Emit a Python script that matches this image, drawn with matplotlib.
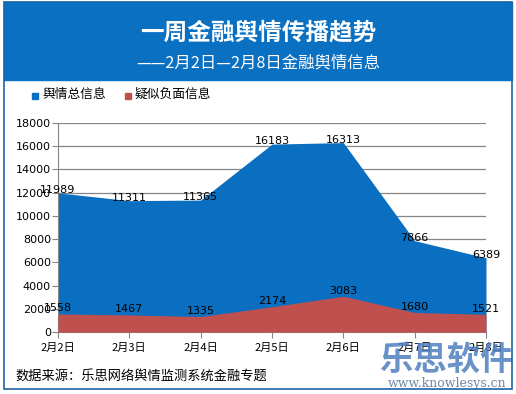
import matplotlib.pyplot as plt
from matplotlib.patches import Rectangle

plt.rcParams['font.family'] = ['Noto Sans CJK SC', 'DejaVu Sans']

# 数据
dates = ['2月2日', '2月3日', '2月4日', '2月5日', '2月6日', '2月7日', '2月8日']
total = [11989, 11311, 11365, 16183, 16313, 7866, 6389]
negative = [1558, 1467, 1335, 2174, 3083, 1680, 1521]
yticks = [0, 2000, 4000, 6000, 8000, 10000, 12000, 14000, 16000, 18000]

W, H = 516, 394
fig = plt.figure(figsize=(W / 100, H / 100), dpi=100)
fig.patch.set_facecolor('white')

blue = '#0a6fc0'
red = '#c0504d'

# 顶部标题栏和外框
fig.patches.append(Rectangle((4 / W, 1 - 80 / H), 508 / W, 78 / H,
                             transform=fig.transFigure, color='#0a70c2', zorder=0))
fig.patches.append(Rectangle((4 / W, 1 - 389 / H), 508 / W, 387 / H,
                             transform=fig.transFigure, fill=False,
                             edgecolor='#1f64a8', linewidth=1.2, zorder=5))

fig.text(258 / W, 1 - 32 / H, '一周金融舆情传播趋势', color='white',
         fontsize=17, fontweight='bold', ha='center', va='center')
fig.text(258 / W, 1 - 63 / H, '——2月2日—2月8日金融舆情信息', color='white',
         fontsize=11.8, ha='center', va='center')

# 图例
fig.patches.append(Rectangle((32 / W, 1 - 99 / H), 6 / W, 6 / H,
                             transform=fig.transFigure, color=blue))
fig.text(42 / W, 1 - 94 / H, '舆情总信息', fontsize=9.2, va='center')
fig.patches.append(Rectangle((125 / W, 1 - 99 / H), 6 / W, 6 / H,
                             transform=fig.transFigure, color=red))
fig.text(135 / W, 1 - 94 / H, '疑似负面信息', fontsize=9.2, va='center')

# 主图
ax = fig.add_axes([58 / W, 62 / H, 428 / W, 209 / H])
x = list(range(len(dates)))
ax.fill_between(x, 0, total, color=blue, linewidth=0, zorder=2)
ax.fill_between(x, 0, negative, color=red, linewidth=0, zorder=3)

for i, v in enumerate(total):
    ax.annotate(str(v), (i, v), xytext=(0, 2), textcoords='offset points',
                ha='center', va='center', fontsize=8, family='DejaVu Sans', zorder=4)
for i, v in enumerate(negative):
    ax.annotate(str(v), (i, v), xytext=(0, 4), textcoords='offset points',
                ha='center', va='center', fontsize=8, family='DejaVu Sans', zorder=4)

ax.set_xlim(0, 6)
ax.set_ylim(0, 18000)
ax.set_yticks(yticks)
ax.set_yticklabels([str(t) for t in yticks], family='DejaVu Sans')
ax.set_xticks(x)
ax.set_xticklabels(dates)
ax.grid(axis='y', color='#868686', linewidth=0.9, zorder=1)
ax.set_axisbelow(True)
for s in ['top', 'right']:
    ax.spines[s].set_visible(False)
for s in ['left', 'bottom']:
    ax.spines[s].set_color('#868686')
ax.tick_params(axis='both', colors='#868686', labelcolor='black', labelsize=8, length=4)
ax.tick_params(axis='y', pad=1)

# 数据来源
fig.text(15 / W, 1 - 377 / H, '数据来源：乐思网络舆情监测系统金融专题', fontsize=9.5, va='center')

# 水印
fig.text(447 / W, 1 - 360 / H, '乐思软件', fontsize=24, fontweight='heavy',
         color='#4f7fc0', alpha=0.85, ha='center', va='center')
fig.text(447 / W, 1 - 384 / H, 'www.knowlesys.cn', fontsize=9,
         family='DejaVu Serif', color='#6f86a6', ha='center', va='center')

fig.savefig('out.png', dpi=100)
